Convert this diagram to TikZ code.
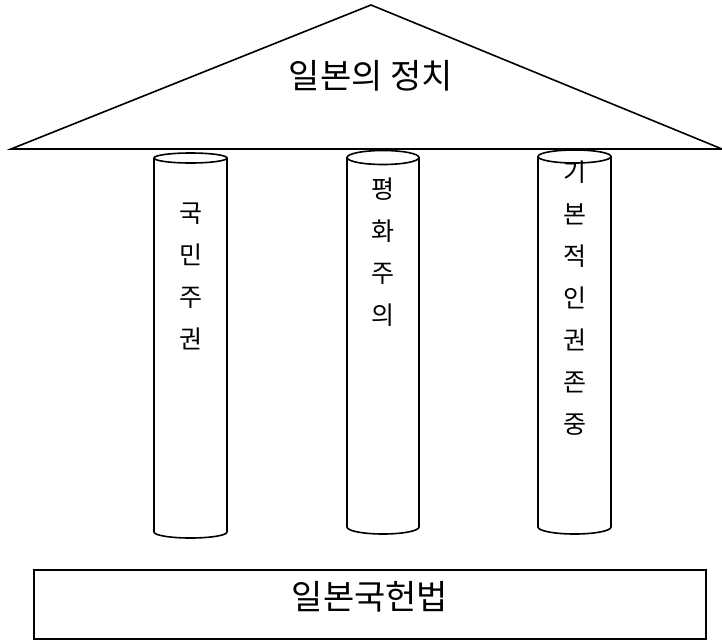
\documentclass[tikz,border=0pt]{standalone}
\usepackage{fontspec}
\newfontfamily\cjk{Noto Sans CJK KR}
\tikzset{
  outline/.style={draw=black, line width=1.6pt, line join=miter},
  title/.style={font=\cjk\fontsize{34}{36}\selectfont},
  pillartext/.style={font=\cjk\fontsize{25}{42}\selectfont, align=center},
}
\begin{document}
\begin{tikzpicture}[x=1pt, y=-1pt]
    \useasboundingbox (0,0) rectangle (722,640);
    % roof
    \coordinate (roofL) at (11,149);
    \coordinate (roofT) at (371,5);
    \coordinate (roofR) at (722,149);
    \draw[outline] (roofL) -- (roofT) -- (roofR) -- cycle;
    \node[title] (politics) at (371,76) {일본의 정치};
    % pillars
    \draw[outline] (190.5,158) ellipse (36.5 and 5);
    \draw[outline] (154,158) -- (154,532) arc (180:0:36.5 and 6) -- (227,158);
    \draw[outline] (383,157.5) ellipse (36 and 7);
    \draw[outline] (347,157.5) -- (347,527) arc (180:0:36 and 7) -- (419,157.5);
    \draw[outline] (574.5,156.5) ellipse (36.5 and 6.5);
    \draw[outline] (538,156.5) -- (538,527) arc (180:0:36.5 and 7) -- (611,156.5);
    \node[pillartext] (sovereignty) at (190.5,276) {국\\민\\주\\권};
    \node[pillartext] (pacifism) at (383,252) {평\\화\\주\\의};
    \node[pillartext] (rights) at (574.5,298) {기\\본\\적\\인\\권\\존\\중};
    % base
    \draw[outline] (34,570) rectangle (706,639);
    \node[title] (constitution) at (370,597) {일본국헌법};
\end{tikzpicture}
\end{document}
